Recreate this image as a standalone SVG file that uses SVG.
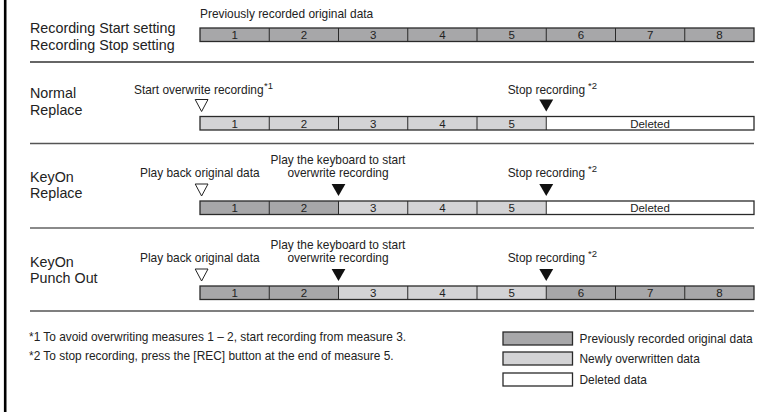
<svg xmlns="http://www.w3.org/2000/svg" width="774" height="412" viewBox="0 0 774 412">
<style>
text{font-family:"Liberation Sans",Arial,Helvetica,sans-serif;fill:#222}
.lbl{font-size:14.3px}
.ann{font-size:11.9px}
.sup{font-size:9.5px}
.num{font-size:11.5px;text-anchor:middle}
.dk{fill:#a7a7a9}
.lt{fill:#d3d3d5}
.wh{fill:#fff}
.out{fill:none;stroke:#2a2a2a;stroke-width:1.3}
.div{stroke:#2a2a2a;stroke-width:1}
.hol{fill:#fff;stroke:#222;stroke-width:1}
.fil{fill:#111}
</style>
<rect width="774" height="412" fill="#fff"/>
<line x1="5.2" y1="0" x2="5.2" y2="412" stroke="#000" stroke-width="2.6"/>

<g id="separators">
<line x1="30" y1="62" x2="754" y2="62" stroke="#333" stroke-width="1.3"/>
<line x1="30" y1="143.5" x2="754" y2="143.5" stroke="#555" stroke-width="1.4"/>
<line x1="30" y1="228" x2="754" y2="228" stroke="#8a8a8a" stroke-width="2"/>
<line x1="30" y1="311" x2="754" y2="311" stroke="#555" stroke-width="1.4"/>
</g>

<g id="row-setting">
<text class="lbl" x="30" y="33">Recording Start setting</text>
<text class="lbl" x="30" y="49.5">Recording Stop setting</text>
<text class="ann" x="200" y="18">Previously recorded original data</text>
<g id="bar-setting">
<rect class="dk" x="200" y="28" width="554" height="13.5"/>
<rect class="out" x="200" y="28" width="554" height="13.5"/>
<path class="div" d="M269.25 28V41.5M338.5 28V41.5M407.75 28V41.5M477 28V41.5M546.25 28V41.5M615.5 28V41.5M684.75 28V41.5"/>
<text class="num" x="234.6" y="39">1</text><text class="num" x="303.9" y="39">2</text><text class="num" x="373.1" y="39">3</text><text class="num" x="442.4" y="39">4</text><text class="num" x="511.6" y="39">5</text><text class="num" x="580.9" y="39">6</text><text class="num" x="650.1" y="39">7</text><text class="num" x="719.4" y="39">8</text>
</g>
</g>

<g id="row-normal">
<text class="lbl" x="30" y="98">Normal</text>
<text class="lbl" x="30" y="114.5">Replace</text>
<text class="ann" x="134" y="93.5">Start overwrite recording<tspan class="sup" dx="0.5" dy="-5">*1</tspan></text>
<text class="ann" x="507.7" y="93.5">Stop recording<tspan class="sup" dx="3" dy="-5">*2</tspan></text>
<polygon class="hol" points="195.2,99.5 208,99.5 201.6,111.5"/>
<polygon class="fil" points="539.3,99.5 553.2,99.5 546.25,111.5"/>
<g id="bar-normal">
<rect class="lt" x="200" y="116.5" width="346.25" height="13.5"/>
<rect class="wh" x="546.25" y="116.5" width="207.75" height="13.5"/>
<rect class="out" x="200" y="116.5" width="554" height="13.5"/>
<path class="div" d="M269.25 116.5V130M338.5 116.5V130M407.75 116.5V130M477 116.5V130M546.25 116.5V130"/>
<text class="num" x="234.6" y="127.5">1</text><text class="num" x="303.9" y="127.5">2</text><text class="num" x="373.1" y="127.5">3</text><text class="num" x="442.4" y="127.5">4</text><text class="num" x="511.6" y="127.5">5</text><text class="num" x="650" y="127.5">Deleted</text>
</g>
</g>

<g id="row-keyon-replace">
<text class="lbl" x="30" y="181.5">KeyOn</text>
<text class="lbl" x="30" y="197.5">Replace</text>
<text class="ann" x="140" y="177">Play back original data</text>
<text class="ann" x="338" y="163.5" text-anchor="middle">Play the keyboard to start</text>
<text class="ann" x="338" y="177" text-anchor="middle">overwrite recording</text>
<text class="ann" x="507.7" y="177">Stop recording<tspan class="sup" dx="3" dy="-5">*2</tspan></text>
<polygon class="hol" points="195.2,184 208,184 201.6,196"/>
<polygon class="fil" points="331.6,184 345.4,184 338.5,196"/>
<polygon class="fil" points="539.3,184 553.2,184 546.25,196"/>
<g id="bar-keyon-replace">
<rect class="dk" x="200" y="201" width="138.5" height="13.5"/>
<rect class="lt" x="338.5" y="201" width="207.75" height="13.5"/>
<rect class="wh" x="546.25" y="201" width="207.75" height="13.5"/>
<rect class="out" x="200" y="201" width="554" height="13.5"/>
<path class="div" d="M269.25 201V214.5M338.5 201V214.5M407.75 201V214.5M477 201V214.5M546.25 201V214.5"/>
<text class="num" x="234.6" y="212">1</text><text class="num" x="303.9" y="212">2</text><text class="num" x="373.1" y="212">3</text><text class="num" x="442.4" y="212">4</text><text class="num" x="511.6" y="212">5</text><text class="num" x="650" y="212">Deleted</text>
</g>
</g>

<g id="row-keyon-punchout">
<text class="lbl" x="30" y="266.5">KeyOn</text>
<text class="lbl" x="30" y="282.5">Punch Out</text>
<text class="ann" x="140" y="262">Play back original data</text>
<text class="ann" x="338" y="248.5" text-anchor="middle">Play the keyboard to start</text>
<text class="ann" x="338" y="262" text-anchor="middle">overwrite recording</text>
<text class="ann" x="507.7" y="262">Stop recording<tspan class="sup" dx="3" dy="-5">*2</tspan></text>
<polygon class="hol" points="195.2,269 208,269 201.6,281"/>
<polygon class="fil" points="331.6,269 345.4,269 338.5,281"/>
<polygon class="fil" points="539.3,269 553.2,269 546.25,281"/>
<g id="bar-keyon-punchout">
<rect class="dk" x="200" y="286" width="138.5" height="13.5"/>
<rect class="lt" x="338.5" y="286" width="207.75" height="13.5"/>
<rect class="dk" x="546.25" y="286" width="207.75" height="13.5"/>
<rect class="out" x="200" y="286" width="554" height="13.5"/>
<path class="div" d="M269.25 286V299.5M338.5 286V299.5M407.75 286V299.5M477 286V299.5M546.25 286V299.5M615.5 286V299.5M684.75 286V299.5"/>
<text class="num" x="234.6" y="297">1</text><text class="num" x="303.9" y="297">2</text><text class="num" x="373.1" y="297">3</text><text class="num" x="442.4" y="297">4</text><text class="num" x="511.6" y="297">5</text><text class="num" x="580.9" y="297">6</text><text class="num" x="650.1" y="297">7</text><text class="num" x="719.4" y="297">8</text>
</g>
</g>

<g id="footnotes">
<text class="ann" x="29" y="341">*1 To avoid overwriting measures 1 – 2, start recording from measure 3.</text>
<text class="ann" x="29" y="360">*2 To stop recording, press the [REC] button at the end of measure 5.</text>
</g>

<g id="legend">
<rect class="dk" x="503" y="332" width="69.5" height="13"/><rect class="out" x="503" y="332" width="69.5" height="13"/>
<text class="ann" x="579.5" y="342.5">Previously recorded original data</text>
<rect class="lt" x="503" y="352" width="69.5" height="13"/><rect class="out" x="503" y="352" width="69.5" height="13"/>
<text class="ann" x="579.5" y="362.5">Newly overwritten data</text>
<rect class="wh" x="503" y="373" width="69.5" height="13"/><rect class="out" x="503" y="373" width="69.5" height="13"/>
<text class="ann" x="579.5" y="383.5">Deleted data</text>
</g>
</svg>
